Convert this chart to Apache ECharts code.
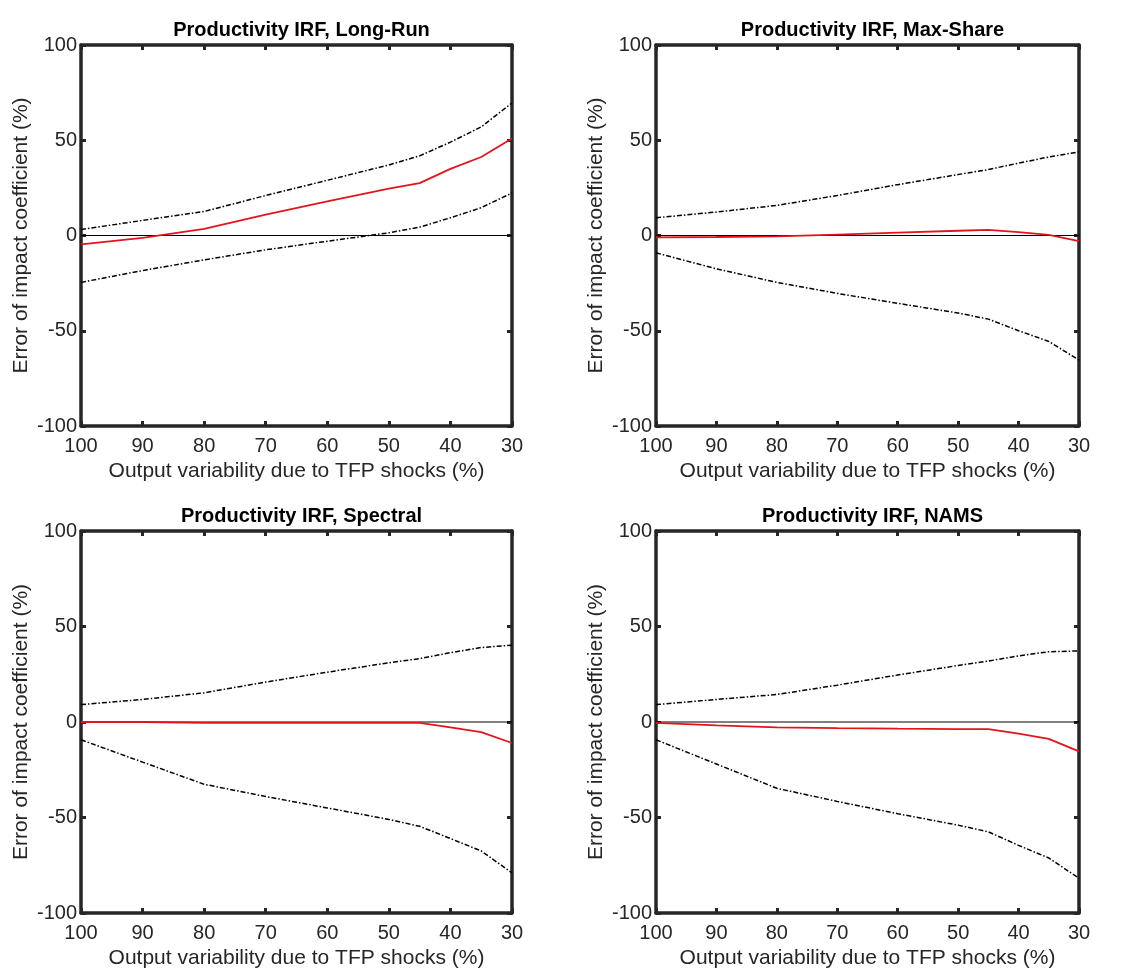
<!DOCTYPE html>
<html>
<head>
<meta charset="utf-8">
<script src="https://cdn.jsdelivr.net/npm/echarts@6/dist/echarts.min.js"></script>
<style>
  html, body { margin: 0; padding: 0; background: #fff; }
  #main { width: 1143px; height: 972px; }
</style>
</head>
<body>
<div id="main"></div>
<script>
// share of output variability due to TFP shocks (%)
const xValues = [100, 90, 80, 70, 60, 50, 45, 40, 35, 30];
const xTicks = [100, 90, 80, 70, 60, 50, 40, 30];
const yTicks = [-100, -50, 0, 50, 100];

const panelTitles = [
  'Productivity IRF, Long-Run',
  'Productivity IRF, Max-Share',
  'Productivity IRF, Spectral',
  'Productivity IRF, NAMS'
];

// Long-Run
const longRunUpper = [3.2, 7.9, 12.6, 21, 29, 37, 41.8, 49, 57, 69.6];
const longRunMean = [-4.7, -1.2, 3.5, 10.9, 17.9, 24.6, 27.5, 35, 41.2, 50.9];
const longRunLower = [-24.6, -18.4, -12.8, -7.5, -3, 1.4, 4.4, 9.3, 14.6, 22.3];

// Max-Share
const maxShareUpper = [9.3, 12.3, 15.8, 21, 26.7, 32, 34.6, 38, 41.2, 43.9];
const maxShareMean = [-1, -0.8, -0.5, 0.5, 1.5, 2.5, 3, 1.8, 0.3, -3];
const maxShareLower = [-9.1, -17.5, -24.6, -30.4, -35.6, -40.7, -43.9, -50, -55.6, -65.4];

// Spectral
const spectralUpper = [9.1, 11.8, 15.3, 20.9, 26.1, 31, 33.2, 36.3, 39, 40.2];
const spectralMean = [0, 0, -0.5, -0.5, -0.5, -0.5, -0.5, -2.8, -5.3, -11];
const spectralLower = [-9.3, -21, -32.6, -39, -45, -51, -54.6, -61, -67.5, -79];

// NAMS
const namsUpper = [9.1, 11.8, 14.4, 19.3, 24.6, 29.6, 31.9, 34.6, 36.8, 37.2];
const namsMean = [-0.5, -1.8, -2.8, -3.2, -3.5, -3.7, -3.7, -6.1, -8.8, -15.4];
const namsLower = [-9.3, -22, -34.7, -41.6, -48, -54, -57.5, -64.6, -71.2, -81.8];

const zeroLine = [0, 0];

const panelData = [
  [longRunUpper, longRunMean, longRunLower],
  [maxShareUpper, maxShareMean, maxShareLower],
  [spectralUpper, spectralMean, spectralLower],
  [namsUpper, namsMean, namsLower]
];

const FONT = '"Liberation Sans", Arial, Helvetica, sans-serif';
const AXIS_COLOR = '#262626';

const grids = [
  { left: 81, top: 45, width: 431, height: 381 },
  { left: 656, top: 45, width: 423, height: 381 },
  { left: 81, top: 531, width: 431, height: 382 },
  { left: 656, top: 531, width: 423, height: 382 }
];

const pair = (arr) => xValues.map((x, i) => [x, arr[i]]);

const axisLine = { show: true, onZero: false, lineStyle: { color: AXIS_COLOR, width: 3.5 } };
const axisTick = { show: true, inside: true, length: 5, lineStyle: { color: AXIS_COLOR, width: 3 } };

const xAxis = [];
const yAxis = [];
const series = [];
const title = [];

grids.forEach((g, i) => {
  title.push({
    text: panelTitles[i],
    left: g.left + g.width / 2,
    top: g.top - 30,
    textAlign: 'center',
    textStyle: { fontFamily: FONT, fontSize: 20, fontWeight: 'bold', color: '#000' }
  });

  ['bottom', 'top'].forEach((pos) => {
    xAxis.push({
      type: 'value',
      gridIndex: i,
      position: pos,
      inverse: true,
      min: 30,
      max: 100,
      interval: 10,
      axisLine: axisLine,
      axisTick: axisTick,
      splitLine: { show: false },
      axisLabel: {
        show: pos === 'bottom',
        margin: 10,
        fontFamily: FONT,
        fontSize: 20,
        color: AXIS_COLOR
      },
      name: pos === 'bottom' ? 'Output variability due to TFP shocks (%)' : '',
      nameLocation: 'middle',
      nameGap: 35,
      nameTextStyle: { fontFamily: FONT, fontSize: 21, color: AXIS_COLOR }
    });
  });

  ['left', 'right'].forEach((pos) => {
    yAxis.push({
      type: 'value',
      gridIndex: i,
      position: pos,
      min: -100,
      max: 100,
      interval: 50,
      axisLine: axisLine,
      axisTick: axisTick,
      splitLine: { show: false },
      axisLabel: {
        show: pos === 'left',
        margin: 4,
        fontFamily: FONT,
        fontSize: 20,
        color: AXIS_COLOR
      },
      name: pos === 'left' ? 'Error of impact coefficient (%)' : '',
      nameLocation: 'middle',
      nameGap: 49,
      nameTextStyle: { fontFamily: FONT, fontSize: 21, color: AXIS_COLOR }
    });
  });

  const [upper, mean, lower] = panelData[i];

  series.push({
    type: 'line',
    xAxisIndex: 2 * i,
    yAxisIndex: 2 * i,
    data: [[xValues[0], zeroLine[0]], [xValues[xValues.length - 1], zeroLine[1]]],
    showSymbol: false,
    silent: true,
    z: 1,
    lineStyle: { color: '#000', width: 1 }
  });
  [upper, lower].forEach((band) => {
    series.push({
      type: 'line',
      xAxisIndex: 2 * i,
      yAxisIndex: 2 * i,
      data: pair(band),
      showSymbol: false,
      silent: true,
      z: 2,
      lineStyle: { color: '#000', width: 1.5, type: [5, 2, 1.5, 2] }
    });
  });
  series.push({
    type: 'line',
    xAxisIndex: 2 * i,
    yAxisIndex: 2 * i,
    data: pair(mean),
    showSymbol: false,
    silent: true,
    z: 3,
    lineStyle: { color: '#e3141c', width: 1.8 }
  });
});

const myChart = echarts.init(document.getElementById('main'), null, { renderer: 'canvas' });
myChart.setOption({
  backgroundColor: '#fff',
  animation: false,
  title: title,
  grid: grids.map((g) => Object.assign({ containLabel: false }, g)),
  xAxis: xAxis,
  yAxis: yAxis,
  series: series
});
</script>
</body>
</html>
